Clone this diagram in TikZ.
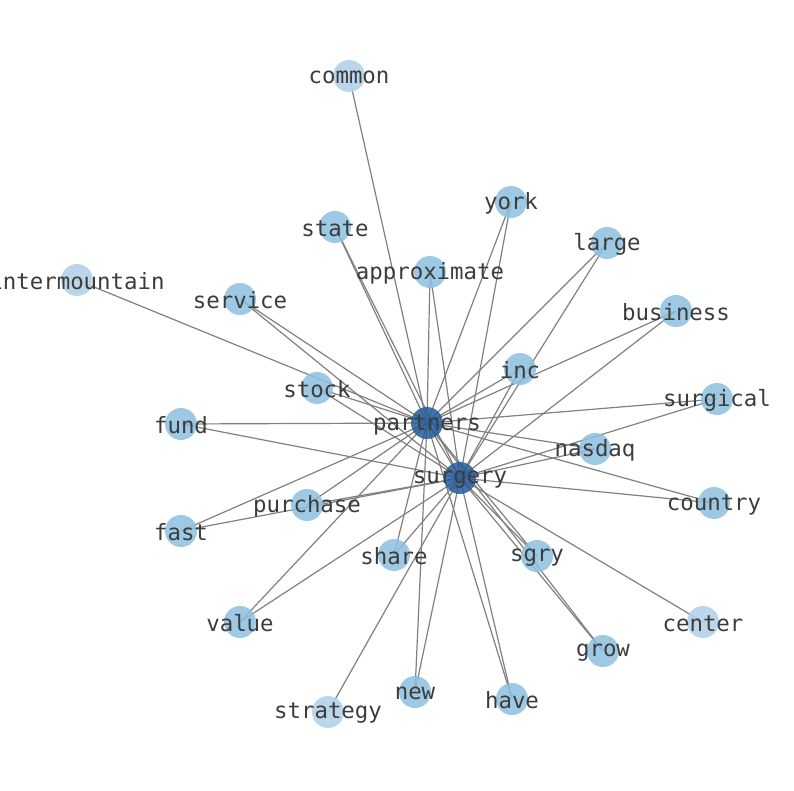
\documentclass[tikz,border=0pt]{standalone}
\usepackage{fontspec}
\usepackage{xcolor}
\usepackage{tikz}
\usetikzlibrary{backgrounds}
\newfontfamily\wordfont{DejaVu Sans Mono}
\definecolor{hubblue}{RGB}{36,92,156}
\definecolor{midblue}{RGB}{140,192,223}
\definecolor{paleblue}{RGB}{180,210,232}
\definecolor{labelgray}{RGB}{60,60,60}
\tikzset{
  word/.style={text=labelgray,font=\wordfont\fontsize{22.4}{25}\selectfont,inner sep=0pt,yshift=-1.5pt},
  dot/.style={circle,minimum size=32pt,inner sep=0pt,fill opacity=0.85},
  hub/.style={dot,fill=hubblue},
  leaf/.style={dot,fill=midblue},
  faint/.style={dot,fill=paleblue,fill opacity=0.9},
  edge/.style={draw=gray,line width=1.2pt}
}
\begin{document}
\begin{tikzpicture}[x=1pt,y=1pt]
	\useasboundingbox (0,0) rectangle (794,-790);
	% the two hubs
	\node[hub,label={[word]center:partners}] (partners) at (427,-423) {};
	\node[hub,label={[word]center:surgery}] (surgery) at (460,-478) {};
	% words tied to both hubs
	\node[leaf,label={[word]center:york}] (york) at (511,-202) {};
	\node[leaf,label={[word]center:state}] (state) at (335,-227) {};
	\node[leaf,label={[word]center:large}] (large) at (607,-243) {};
	\node[leaf,label={[word]center:approximate}] (approximate) at (430,-272) {};
	\node[leaf,label={[word]center:service}] (service) at (240,-299) {};
	\node[leaf,label={[word]center:business}] (business) at (676,-311) {};
	\node[leaf,label={[word]center:inc}] (inc) at (520,-369) {};
	\node[leaf,label={[word]center:stock}] (stock) at (317,-388) {};
	\node[leaf,label={[word]center:surgical}] (surgical) at (717,-399) {};
	\node[leaf,label={[word]center:fund}] (fund) at (181,-424) {};
	\node[leaf,label={[word]center:nasdaq}] (nasdaq) at (595,-449) {};
	\node[leaf,label={[word]center:purchase}] (purchase) at (307,-505) {};
	\node[leaf,label={[word]center:country}] (country) at (714,-503) {};
	\node[leaf,label={[word]center:fast}] (fast) at (181,-531) {};
	\node[leaf,label={[word]center:share}] (share) at (394,-555) {};
	\node[leaf,label={[word]center:sgry}] (sgry) at (537,-556) {};
	\node[leaf,label={[word]center:value}] (value) at (240,-622) {};
	\node[leaf,label={[word]center:grow}] (grow) at (603,-651) {};
	\node[leaf,label={[word]center:new}] (new) at (415,-692) {};
	\node[leaf,label={[word]center:have}] (have) at (512,-699) {};
	% words tied to one hub
	\node[faint,label={[word]center:common}] (common) at (349,-76) {};
	\node[faint,label={[word]center:intermountain}] (intermountain) at (77,-280) {};
	\node[faint,label={[word]center:center}] (center) at (703,-622) {};
	\node[faint,label={[word]center:strategy}] (strategy) at (328,-712) {};
	\begin{scope}[on background layer]
		\draw[edge] (partners.center)--(surgery.center);
		\foreach \w in {york,state,large,approximate,service,business,inc,stock,surgical,fund,nasdaq,purchase,country,fast,share,sgry,value,grow,new,have}{
			\draw[edge] (\w.center)--(partners.center);
			\draw[edge] (\w.center)--(surgery.center);
		}
		\draw[edge] (common.center)--(partners.center);
		\draw[edge] (intermountain.center)--(partners.center);
		\draw[edge] (center.center)--(surgery.center);
		\draw[edge] (strategy.center)--(surgery.center);
	\end{scope}
\end{tikzpicture}
\end{document}
